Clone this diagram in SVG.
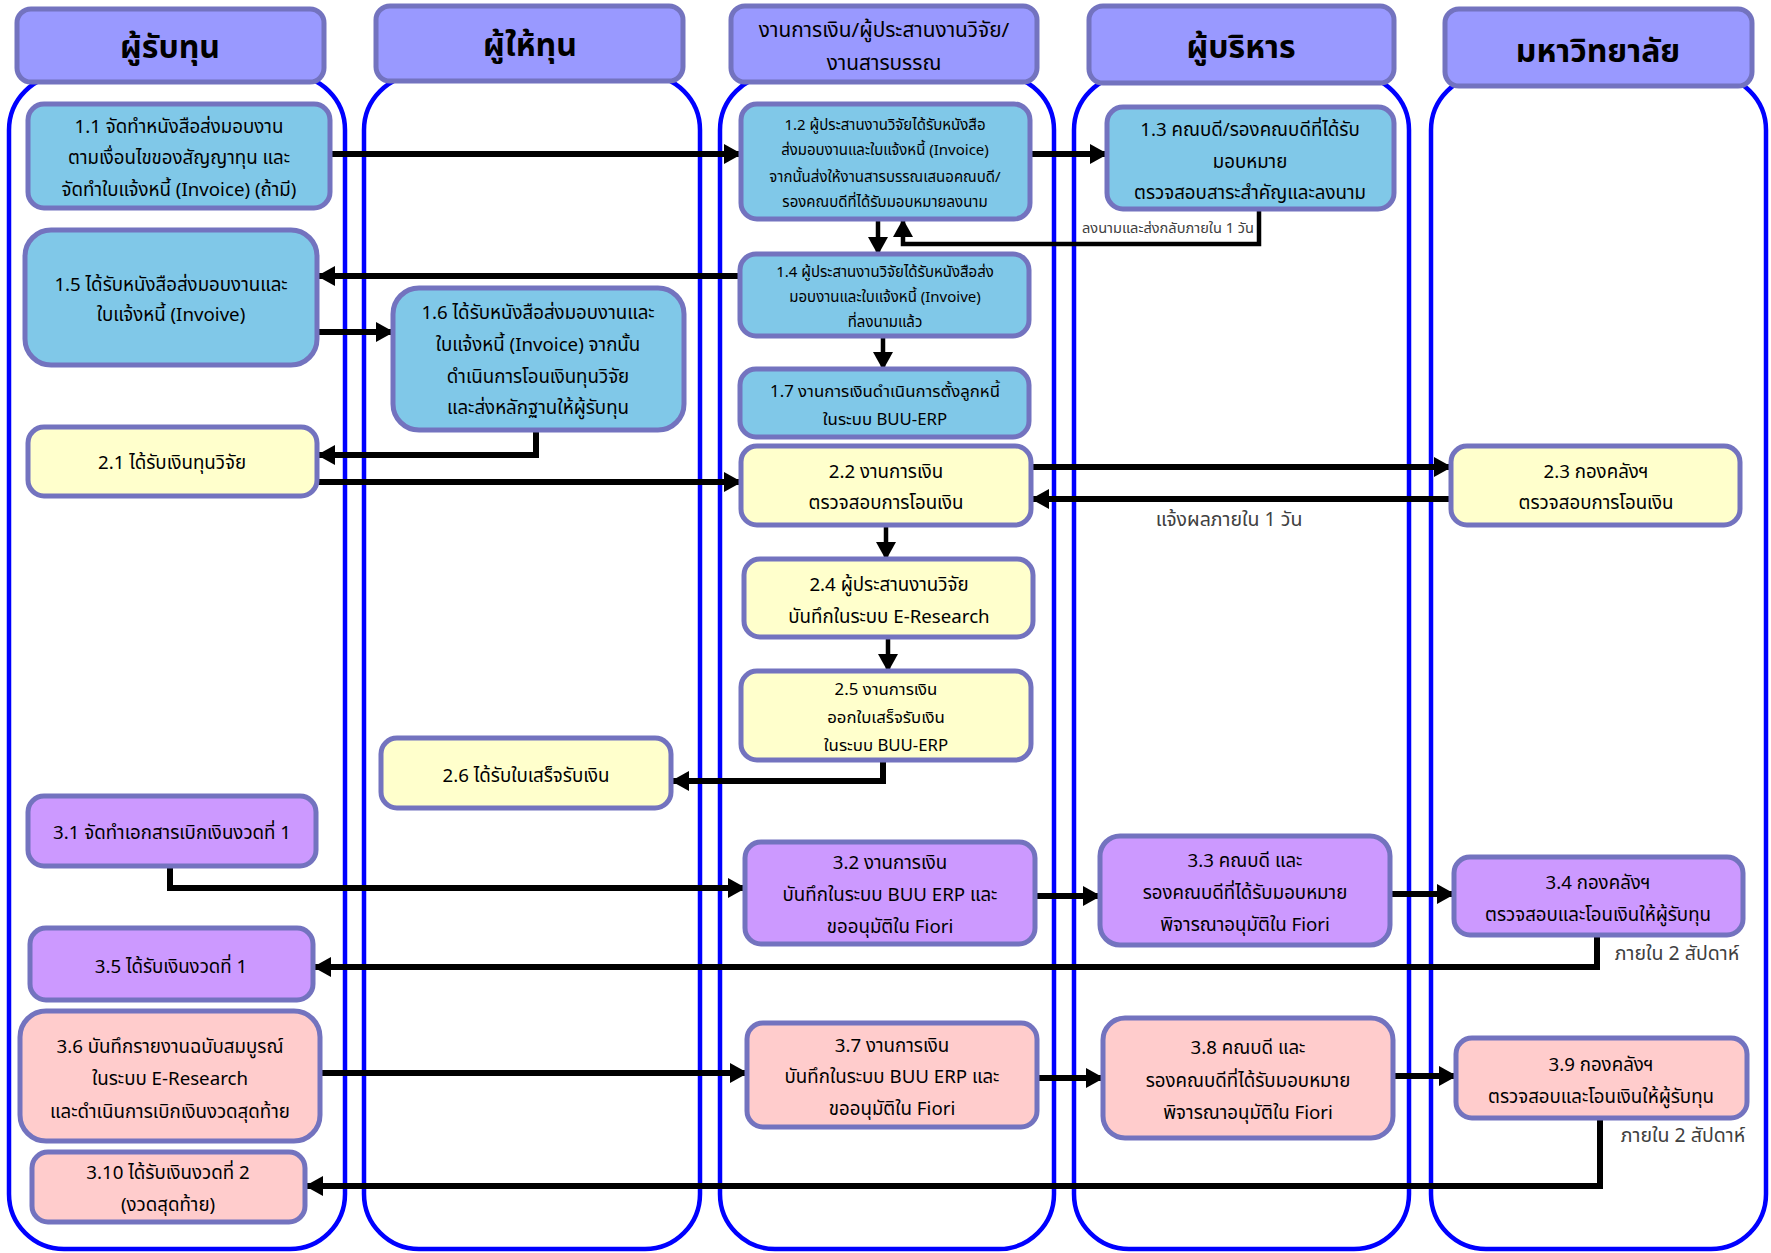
<svg xmlns="http://www.w3.org/2000/svg" width="1771" height="1253" viewBox="0 0 1771 1253">
<defs>
<style>
.lane{fill:none;stroke:#0000FF;stroke-width:4.5}
.hdr{fill:#9999FF;stroke:#7373BF;stroke-width:5}
.nb{fill:#80C8E8;stroke:#7373BF;stroke-width:5}
.ny{fill:#FFFFCC;stroke:#7373BF;stroke-width:5}
.np{fill:#CC99FF;stroke:#7373BF;stroke-width:5}
.nk{fill:#FFCCCC;stroke:#7373BF;stroke-width:5}
text{font-family:"Noto Sans Thai","Noto Sans Thai UI","Tahoma","Noto Sans",sans-serif;text-anchor:middle;dominant-baseline:central;fill:#000}
.h1{font-size:32px;font-weight:bold}
.h2{font-size:20.8px}
.f19{font-size:18.7px}
.f18{font-size:18.7px}
.f16{font-size:16.8px}
.f15{font-size:15px}
.lbl{font-size:19.5px;fill:#404040}
.lbls{font-size:14.6px;fill:#404040}
.e{fill:none;stroke:#000;stroke-width:6;marker-end:url(#ah)}
.es{fill:none;stroke:#000;stroke-width:4.5;marker-end:url(#ah)}
</style>
<marker id="ah" markerUnits="userSpaceOnUse" markerWidth="18" markerHeight="20" refX="17" refY="10" orient="auto" viewBox="0 0 18 20">
<path d="M0,0 L18,10 L0,20 z" fill="#000"/>
</marker>
</defs>
<rect width="1771" height="1253" fill="#fff"/>
<g id="lanes">
<rect class="lane" x="9" y="75" width="336" height="1174" rx="55"/>
<rect class="lane" x="364" y="75" width="336" height="1174" rx="55"/>
<rect class="lane" x="720" y="75" width="334" height="1174" rx="55"/>
<rect class="lane" x="1074" y="75" width="335" height="1174" rx="55"/>
<rect class="lane" x="1431" y="75" width="335" height="1174" rx="55"/>
</g>
<g id="headers">
<g id="h-recipient"><rect class="hdr" x="17" y="9" width="307" height="73" rx="14"/><text class="h1" x="170" y="48">ผู้รับทุน</text></g>
<g id="h-funder"><rect class="hdr" x="376" y="6" width="307" height="75" rx="14"/><text class="h1" x="530" y="46">ผู้ให้ทุน</text></g>
<g id="h-finance"><rect class="hdr" x="731" y="6" width="306" height="76" rx="14"/><text class="h2" x="884" y="30">งานการเงิน/ผู้ประสานงานวิจัย/</text><text class="h2" x="884" y="63">งานสารบรรณ</text></g>
<g id="h-exec"><rect class="hdr" x="1089" y="6" width="305" height="77" rx="14"/><text class="h1" x="1241" y="48">ผู้บริหาร</text></g>
<g id="h-univ"><rect class="hdr" x="1445" y="9" width="307" height="77" rx="14"/><text class="h1" x="1598" y="52">มหาวิทยาลัย</text></g>
</g>
<g id="connectors">
<path class="e" d="M330,154 H741"/>
<path class="e" d="M1030,154 H1107"/>
<path class="es" d="M1259,209 V244 H903 V220"/>
<path class="es" d="M878,219 V254"/>
<path class="e" d="M740,276 H318"/>
<path class="e" d="M317,332 H393"/>
<path class="e" d="M536,430 V455 H318"/>
<path class="es" d="M883,336 V369"/>
<path class="e" d="M317,482 H741"/>
<path class="e" d="M1031,467 H1451"/>
<path class="e" d="M1451,499 H1032"/>
<path class="es" d="M886,525 V559"/>
<path class="es" d="M888,637 V671"/>
<path class="e" d="M883,760 V781 H672"/>
<path class="e" d="M170,866 V888 H745"/>
<path class="e" d="M1035,896 H1100"/>
<path class="e" d="M1390,894 H1454"/>
<path class="e" d="M1597,935 V967 H314"/>
<path class="e" d="M320,1073 H747"/>
<path class="e" d="M1037,1078 H1103"/>
<path class="e" d="M1393,1076 H1456"/>
<path class="e" d="M1600,1118 V1186 H306"/>
<text class="lbls" x="1168" y="229">ลงนามและส่งกลับภายใน 1 วัน</text>
<text class="lbl" x="1229" y="520">แจ้งผลภายใน 1 วัน</text>
<text class="lbl" x="1677" y="954">ภายใน 2 สัปดาห์</text>
<text class="lbl" x="1683" y="1136">ภายใน 2 สัปดาห์</text>
</g>
<g id="n11"><rect class="nb" x="28" y="104" width="302" height="104" rx="16"/><text class="f18" x="179" y="127">1.1 จัดทำหนังสือส่งมอบงาน</text><text class="f18" x="179" y="158">ตามเงื่อนไขของสัญญาทุน และ</text><text class="f18" x="179" y="190">จัดทำใบแจ้งหนี้ (Invoice) (ถ้ามี)</text></g>
<g id="n12"><rect class="nb" x="741" y="104" width="289" height="115" rx="16"/><text class="f15" x="885" y="125">1.2 ผู้ประสานงานวิจัยได้รับหนังสือ</text><text class="f15" x="885" y="150">ส่งมอบงานและใบแจ้งหนี้ (Invoice)</text><text class="f15" x="885" y="177">จากนั้นส่งให้งานสารบรรณเสนอคณบดี/</text><text class="f15" x="885" y="202">รองคณบดีที่ได้รับมอบหมายลงนาม</text></g>
<g id="n13"><rect class="nb" x="1107" y="107" width="287" height="102" rx="16"/><text class="f18" x="1250" y="130">1.3 คณบดี/รองคณบดีที่ได้รับ</text><text class="f18" x="1250" y="162">มอบหมาย</text><text class="f18" x="1250" y="193">ตรวจสอบสาระสำคัญและลงนาม</text></g>
<g id="n14"><rect class="nb" x="740" y="254" width="289" height="82" rx="16"/><text class="f15" x="885" y="272">1.4 ผู้ประสานงานวิจัยได้รับหนังสือส่ง</text><text class="f15" x="885" y="297">มอบงานและใบแจ้งหนี้ (Invoive)</text><text class="f15" x="885" y="322">ที่ลงนามแล้ว</text></g>
<g id="n15"><rect class="nb" x="25" y="230" width="292" height="135" rx="26"/><text class="f19" x="171" y="285">1.5 ได้รับหนังสือส่งมอบงานและ</text><text class="f19" x="171" y="315">ใบแจ้งหนี้ (Invoive)</text></g>
<g id="n16"><rect class="nb" x="393" y="288" width="291" height="142" rx="26"/><text class="f19" x="538" y="313">1.6 ได้รับหนังสือส่งมอบงานและ</text><text class="f19" x="538" y="345">ใบแจ้งหนี้ (Invoice) จากนั้น</text><text class="f19" x="538" y="377">ดำเนินการโอนเงินทุนวิจัย</text><text class="f19" x="538" y="408">และส่งหลักฐานให้ผู้รับทุน</text></g>
<g id="n17"><rect class="nb" x="740" y="369" width="289" height="68" rx="16"/><text class="f16" x="885" y="392">1.7 งานการเงินดำเนินการตั้งลูกหนี้</text><text class="f16" x="885" y="420">ในระบบ BUU-ERP</text></g>
<g id="n21"><rect class="ny" x="28" y="427" width="289" height="69" rx="16"/><text class="f18" x="172" y="463">2.1 ได้รับเงินทุนวิจัย</text></g>
<g id="n22"><rect class="ny" x="741" y="446" width="290" height="79" rx="16"/><text class="f18" x="886" y="472">2.2 งานการเงิน</text><text class="f18" x="886" y="503">ตรวจสอบการโอนเงิน</text></g>
<g id="n23"><rect class="ny" x="1451" y="446" width="289" height="79" rx="16"/><text class="f18" x="1596" y="472">2.3 กองคลังฯ</text><text class="f18" x="1596" y="503">ตรวจสอบการโอนเงิน</text></g>
<g id="n24"><rect class="ny" x="744" y="559" width="289" height="78" rx="16"/><text class="f18" x="889" y="585">2.4 ผู้ประสานงานวิจัย</text><text class="f18" x="889" y="617">บันทึกในระบบ E-Research</text></g>
<g id="n25"><rect class="ny" x="741" y="671" width="290" height="89" rx="16"/><text class="f16" x="886" y="690">2.5 งานการเงิน</text><text class="f16" x="886" y="718">ออกใบเสร็จรับเงิน</text><text class="f16" x="886" y="746">ในระบบ BUU-ERP</text></g>
<g id="n26"><rect class="ny" x="381" y="738" width="290" height="70" rx="16"/><text class="f18" x="526" y="776">2.6 ได้รับใบเสร็จรับเงิน</text></g>
<g id="n31"><rect class="np" x="28" y="796" width="288" height="70" rx="16"/><text class="f18" x="172" y="833">3.1 จัดทำเอกสารเบิกเงินงวดที่ 1</text></g>
<g id="n32"><rect class="np" x="745" y="842" width="290" height="102" rx="16"/><text class="f18" x="890" y="863">3.2 งานการเงิน</text><text class="f18" x="890" y="895">บันทึกในระบบ BUU ERP และ</text><text class="f18" x="890" y="927">ขออนุมัติใน Fiori</text></g>
<g id="n33"><rect class="np" x="1100" y="836" width="290" height="109" rx="20"/><text class="f18" x="1245" y="861">3.3 คณบดี และ</text><text class="f18" x="1245" y="893">รองคณบดีที่ได้รับมอบหมาย</text><text class="f18" x="1245" y="925">พิจารณาอนุมัติใน Fiori</text></g>
<g id="n34"><rect class="np" x="1454" y="857" width="289" height="78" rx="16"/><text class="f18" x="1598" y="883">3.4 กองคลังฯ</text><text class="f18" x="1598" y="915">ตรวจสอบและโอนเงินให้ผู้รับทุน</text></g>
<g id="n35"><rect class="np" x="30" y="928" width="283" height="72" rx="16"/><text class="f19" x="171" y="967">3.5 ได้รับเงินงวดที่ 1</text></g>
<g id="n36"><rect class="nk" x="20" y="1011" width="300" height="130" rx="26"/><text class="f18" x="170" y="1047">3.6 บันทึกรายงานฉบับสมบูรณ์</text><text class="f18" x="170" y="1079">ในระบบ E-Research</text><text class="f18" x="170" y="1112">และดำเนินการเบิกเงินงวดสุดท้าย</text></g>
<g id="n37"><rect class="nk" x="747" y="1023" width="290" height="104" rx="16"/><text class="f18" x="892" y="1046">3.7 งานการเงิน</text><text class="f18" x="892" y="1077">บันทึกในระบบ BUU ERP และ</text><text class="f18" x="892" y="1109">ขออนุมัติใน Fiori</text></g>
<g id="n38"><rect class="nk" x="1103" y="1018" width="290" height="120" rx="22"/><text class="f18" x="1248" y="1048">3.8 คณบดี และ</text><text class="f18" x="1248" y="1081">รองคณบดีที่ได้รับมอบหมาย</text><text class="f18" x="1248" y="1113">พิจารณาอนุมัติใน Fiori</text></g>
<g id="n39"><rect class="nk" x="1456" y="1038" width="291" height="80" rx="16"/><text class="f18" x="1601" y="1065">3.9 กองคลังฯ</text><text class="f18" x="1601" y="1097">ตรวจสอบและโอนเงินให้ผู้รับทุน</text></g>
<g id="n310"><rect class="nk" x="32" y="1152" width="273" height="70" rx="16"/><text class="f18" x="168" y="1173">3.10 ได้รับเงินงวดที่ 2</text><text class="f18" x="168" y="1205">(งวดสุดท้าย)</text></g>
</svg>
